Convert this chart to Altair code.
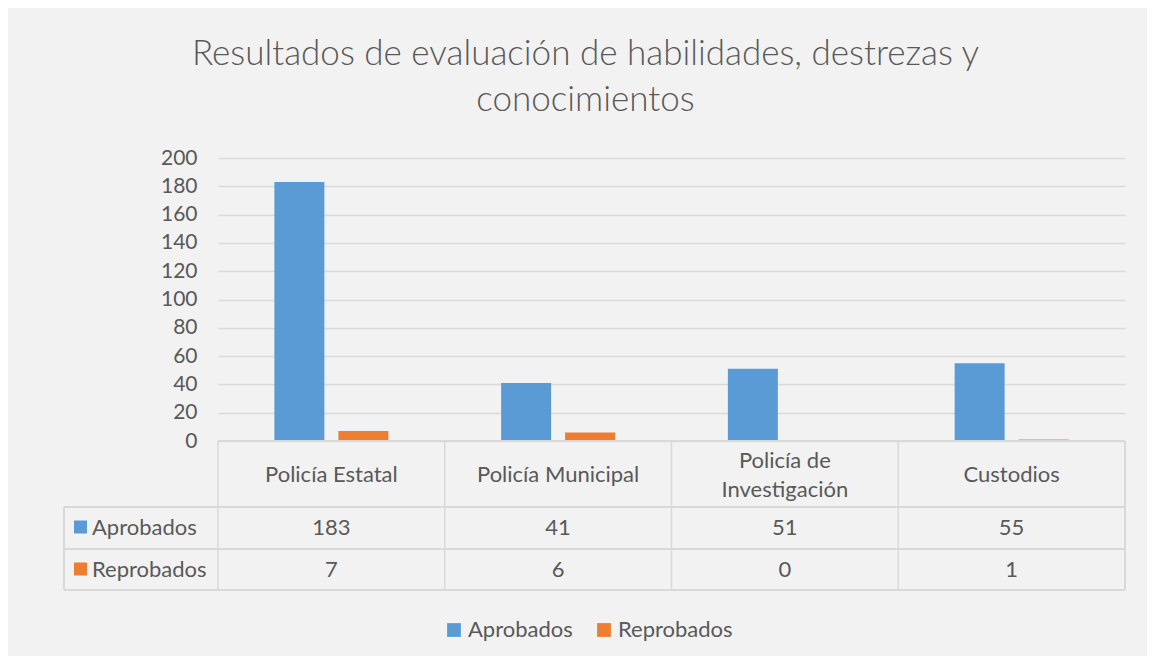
import altair as alt
import pandas as pd

categorias = ["Policía Estatal", "Policía Municipal", "Policía de Investigación", "Custodios"]
etiquetas = ["Policía Estatal", "Policía Municipal", "Policía de\nInvestigación", "Custodios"]
series = ["Aprobados", "Reprobados"]
aprobados = [183, 41, 51, 55]
reprobados = [7, 6, 0, 1]
colores = ["#5b9bd5", "#ed7d31"]
y_ticks = [0, 20, 40, 60, 80, 100, 120, 140, 160, 180, 200]

rows = []
for c, a, r in zip(categorias, aprobados, reprobados):
    rows.append({"categoria": c, "serie": "Aprobados", "valor": a})
    rows.append({"categoria": c, "serie": "Reprobados", "valor": r})
df = pd.DataFrame(rows)
df_cat = pd.DataFrame({"categoria": categorias, "etiqueta": etiquetas})
df_ser = pd.DataFrame({"serie": series})

FONT = "Lato"
TXT = "#595959"
GRID = "#d9d9d9"
W, H = 907, 283

xenc = alt.X("categoria:N", sort=categorias,
             scale=alt.Scale(paddingInner=0, paddingOuter=0), axis=None)
color = alt.Color("serie:N", sort=series,
                  scale=alt.Scale(domain=series, range=colores),
                  legend=alt.Legend(title=None, orient="none", legendX=225, legendY=461,
                                    direction="horizontal", symbolType="square",
                                    symbolSize=190, symbolStrokeWidth=0,
                                    labelFontSize=22, labelFont=FONT, labelColor=TXT,
                                    columnPadding=20, labelOffset=3, padding=0))

bars = alt.Chart(df).mark_bar().encode(
    x=xenc,
    xOffset=alt.XOffset("serie:N", sort=series,
                        scale=alt.Scale(paddingInner=0.21875, paddingOuter=0.881)),
    y=alt.Y("valor:Q", scale=alt.Scale(domain=[0, 200]),
            axis=alt.Axis(values=y_ticks, title=None, domain=False, ticks=False, tickSize=0,
                          labelPadding=21, labelFontSize=21, labelFont=FONT, labelColor=TXT,
                          gridColor=GRID, gridWidth=1.5)),
    color=color,
)

line_style = dict(color=GRID, strokeWidth=1.5)

# table lines
top_line = alt.Chart(df_cat).mark_rule(**line_style).encode(
    x=alt.value(0), x2=alt.value(W), y=alt.value(H))
row_lines = [
    alt.Chart(df_cat).mark_rule(**line_style).encode(
        x=alt.value(-154), x2=alt.value(W), y=alt.value(yy))
    for yy in (349, 391, 432)
]
vlines = alt.Chart(df_cat).mark_rule(**line_style).encode(
    x=alt.X("categoria:N", sort=categorias, bandPosition=0),
    y=alt.value(H), y2=alt.value(432))
vright = alt.Chart(df_cat).mark_rule(**line_style).encode(
    x=alt.value(W), y=alt.value(H), y2=alt.value(432))
vleft = alt.Chart(df_cat).mark_rule(**line_style).encode(
    x=alt.value(-154), y=alt.value(349), y2=alt.value(432))

txt_style = dict(font=FONT, fontSize=22, color=TXT, baseline="middle")

header1 = alt.Chart(df_cat).transform_filter(
    "indexof(datum.etiqueta, '\\n') < 0").mark_text(**txt_style).encode(
    x=alt.X("categoria:N", sort=categorias, bandPosition=0.5),
    y=alt.value(317), text="etiqueta:N")
header2 = alt.Chart(df_cat).transform_filter(
    "indexof(datum.etiqueta, '\\n') >= 0").mark_text(lineBreak="\n", lineHeight=29, **txt_style).encode(
    x=alt.X("categoria:N", sort=categorias, bandPosition=0.5),
    y=alt.value(303), text="etiqueta:N")

val_a = alt.Chart(df).transform_filter(alt.datum.serie == "Aprobados").mark_text(**txt_style).encode(
    x=alt.X("categoria:N", sort=categorias, bandPosition=0.5),
    y=alt.value(370), text="valor:Q")
val_r = alt.Chart(df).transform_filter(alt.datum.serie == "Reprobados").mark_text(**txt_style).encode(
    x=alt.X("categoria:N", sort=categorias, bandPosition=0.5),
    y=alt.value(412), text="valor:Q")

row_lab_a = alt.Chart(df_ser).transform_filter(alt.datum.serie == "Aprobados").mark_text(
    align="left", **txt_style).encode(x=alt.value(-126), y=alt.value(370), text="serie:N")
row_lab_r = alt.Chart(df_ser).transform_filter(alt.datum.serie == "Reprobados").mark_text(
    align="left", **txt_style).encode(x=alt.value(-126), y=alt.value(412), text="serie:N")
sq_a = alt.Chart(df_ser).transform_filter(alt.datum.serie == "Aprobados").mark_square(
    size=169, opacity=1).encode(x=alt.value(-137.5), y=alt.value(369), color=color)
sq_r = alt.Chart(df_ser).transform_filter(alt.datum.serie == "Reprobados").mark_square(
    size=169, opacity=1).encode(x=alt.value(-137.5), y=alt.value(411), color=color)

chart = alt.layer(
    bars, top_line, *row_lines, vlines, vright, vleft,
    header1, header2, val_a, val_r, row_lab_a, row_lab_r, sq_a, sq_r
).properties(
    width=W, height=H,
    title=alt.Title(["Resultados de evaluación de habilidades, destrezas y", "conocimientos"],
                    fontSize=35, font=FONT, fontWeight=300, color=TXT,
                    anchor="middle", dx=-86, offset=1, lineHeight=46, baseline="alphabetic"),
    autosize=alt.AutoSizeParams(type="none"),
    padding={"left": 210, "top": 150, "right": 22, "bottom": 215},
    background="#f2f2f2",
).configure_view(stroke=None)

chart.save("out.html", embed_options={"renderer": "svg", "actions": False})
